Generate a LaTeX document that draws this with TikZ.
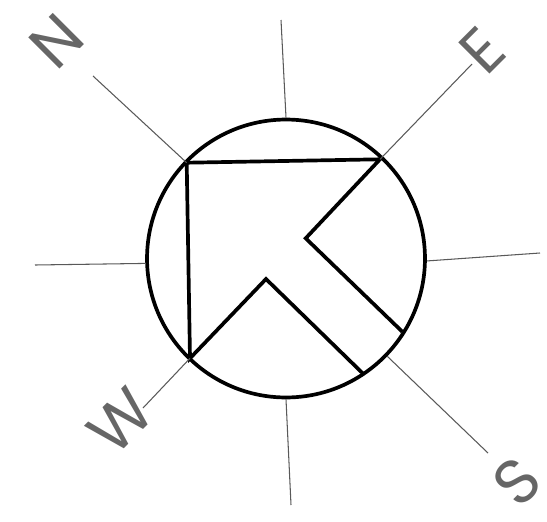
\documentclass[tikz,border=0pt]{standalone}
\usepackage{fontspec}
\setmainfont{Poppins}
\usetikzlibrary{positioning}
\definecolor{labelgray}{HTML}{666666}
\tikzset{
  rim/.style={draw,circle,line width=2.1pt,minimum size=5.56cm,inner sep=0pt},
  ray/.style={draw=black!65,line width=0.6pt},
  arrowline/.style={line width=2.1pt,line join=miter},
  heading/.style={text=labelgray,rotate=45,inner sep=0pt,font=\fontsize{36}{36}\selectfont}
}

\begin{document}
\begin{tikzpicture}[x=0.02cm,y=-0.02cm]
  \useasboundingbox (0,0) rectangle (547,521);
  \node[rim] (rim) at (286,258.5) {};
  % corners of the arrow
  \coordinate (a1) at (186.7,162.7);
  \coordinate (a2) at (380,159.3);
  \coordinate (a3) at (305.7,238.3);
  \coordinate (a4) at (402.3,331.7);
  \coordinate (a5) at (362.7,373.3);
  \coordinate (a6) at (266,279);
  \coordinate (a7) at (190,358.3);
  \draw[arrowline] (a5)--(a6)--(a7)--(a1)--(a2)--(a3)--(a4);
  % outer ends of the rays
  \coordinate (tn) at (93,76);
  \coordinate (te) at (472,64);
  \coordinate (ts) at (488,453);
  \coordinate (tw) at (143,408);
  \coordinate (tu) at (281,20);
  \coordinate (td) at (291,505);
  \coordinate (tl) at (35,265);
  \coordinate (tr) at (540,253);
  \draw[ray] (a1)--(tn);
  \draw[ray] (a2)--(te);
  \draw[ray] (rim.-44)--(ts);
  \draw[ray] (a7)--(tw);
  \draw[ray] (rim.90)--(tu);
  \draw[ray] (rim.270)--(td);
  \draw[ray] (rim.182)--(tl);
  \draw[ray] (rim.359)--(tr);
  % letters
  \node[heading] (n) at (57,41) {N};
  \node[heading] (e) at (482,50) {E};
  \node[heading] (s) at (517,482) {S};
  \node[heading] (w) at (121,421) {W};
\end{tikzpicture}
\end{document}
